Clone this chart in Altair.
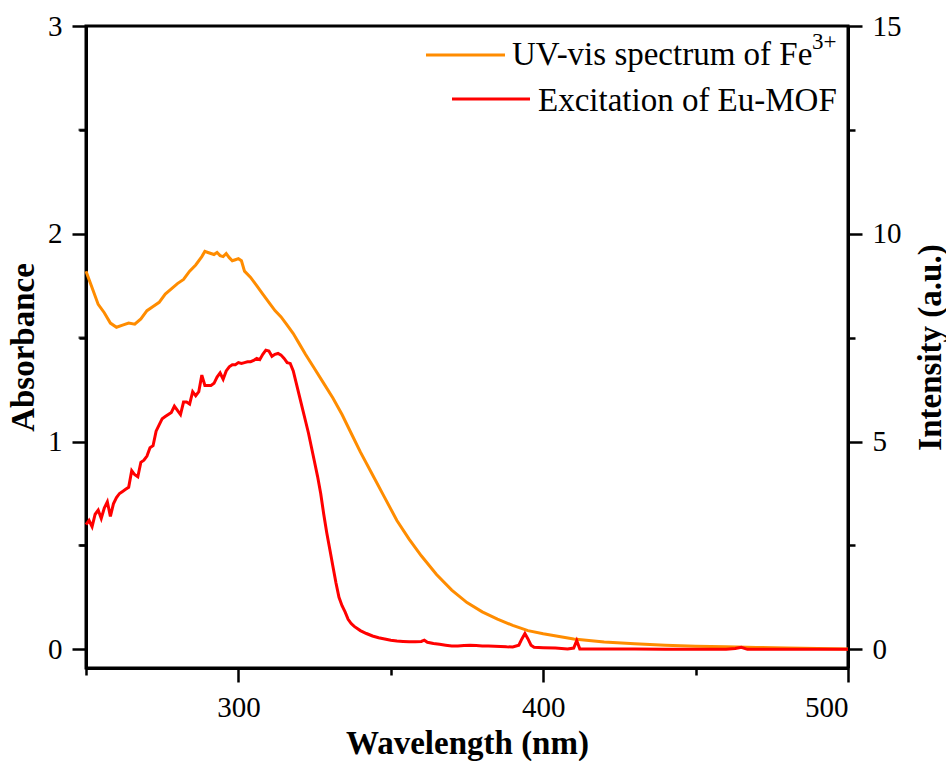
import altair as alt
import pandas as pd

# ---- data ----
uv_wl = [250, 252, 254, 256, 258, 260, 262, 264, 266, 268, 270, 272, 274, 276, 278, 280,
         282, 284, 286, 288, 289, 290, 291, 292, 293, 294, 295, 296, 297, 298, 299, 300,
         301, 302, 304, 306, 308, 310, 312, 314, 316, 318, 320, 322, 325, 328, 331, 334,
         337, 340, 344, 348, 352, 356, 360, 365, 370, 375, 380, 385, 390, 395, 400, 410,
         420, 430, 440, 450, 460, 470, 480, 490, 500]
uv_abs = [1.82, 1.74, 1.66, 1.62, 1.57, 1.55, 1.56, 1.57, 1.565, 1.59, 1.63, 1.65, 1.67, 1.71,
          1.735, 1.76, 1.78, 1.82, 1.85, 1.89, 1.915, 1.91, 1.905, 1.90, 1.91, 1.895, 1.89,
          1.905, 1.885, 1.87, 1.875, 1.88, 1.87, 1.82, 1.79, 1.75, 1.71, 1.67, 1.63, 1.60,
          1.56, 1.52, 1.47, 1.42, 1.35, 1.28, 1.21, 1.13, 1.04, 0.95, 0.84, 0.73, 0.62, 0.53,
          0.45, 0.36, 0.285, 0.225, 0.18, 0.145, 0.115, 0.09, 0.075, 0.05, 0.035, 0.027,
          0.02, 0.015, 0.012, 0.009, 0.006, 0.004, 0.002]

ex_wl = [250, 251, 252, 253, 254, 255, 256, 257, 258, 259, 260, 261, 262, 263, 264, 265, 266,
         267, 268, 269, 270, 271, 272, 273, 274, 275, 276, 277, 278, 279, 280, 281, 282, 283,
         284, 285, 286, 287, 288, 289, 290, 291, 292, 293, 294, 295, 296, 297, 298, 299, 300,
         301, 302, 303, 304, 305, 306, 307, 308, 309, 310, 311, 312, 313, 314, 315, 316, 317,
         318, 319, 320, 321, 322, 323, 324, 325, 326, 327, 328, 329, 330, 331, 332, 333, 334,
         335, 336, 337, 338, 339, 340, 342, 344, 346, 348, 350, 352, 354, 356, 358, 360, 361,
         362, 364, 366, 368, 370, 372, 374, 376, 378, 380, 382, 384, 386, 388, 390, 392, 393,
         394, 395, 396, 397, 400, 404, 408, 410, 411, 412, 420, 430, 440, 450, 460, 463, 465,
         467, 480, 490, 500]
ex_int = [3.0, 3.1, 2.95, 3.25, 3.35, 3.15, 3.4, 3.55, 3.2, 3.5, 3.65, 3.75, 3.8, 3.85, 3.9,
          4.3, 4.2, 4.15, 4.5, 4.55, 4.65, 4.85, 4.9, 5.25, 5.4, 5.55, 5.6, 5.65, 5.7, 5.85,
          5.75, 5.65, 5.95, 5.95, 5.9, 6.2, 6.1, 6.2, 6.6, 6.35, 6.35, 6.35, 6.4, 6.55, 6.65,
          6.5, 6.7, 6.8, 6.85, 6.85, 6.9, 6.88, 6.9, 6.92, 6.92, 6.95, 7.0, 6.97, 7.1, 7.2,
          7.18, 7.05, 7.1, 7.12, 7.08, 7.0, 6.9, 6.88, 6.7, 6.4, 6.1, 5.8, 5.5, 5.2, 4.85, 4.5,
          4.15, 3.75, 3.25, 2.8, 2.4, 2.0, 1.6, 1.25, 1.05, 0.9, 0.72, 0.62, 0.55, 0.5, 0.45,
          0.38, 0.32, 0.28, 0.25, 0.22, 0.2, 0.19, 0.18, 0.18, 0.19, 0.22, 0.17, 0.14, 0.12,
          0.1, 0.08, 0.08, 0.09, 0.1, 0.09, 0.08, 0.08, 0.075, 0.07, 0.06, 0.055, 0.1, 0.25,
          0.38, 0.25, 0.1, 0.05, 0.04, 0.03, 0.01, 0.03, 0.21, 0.01, 0.01, 0.01, 0.0, 0.0,
          0.0, 0.02, 0.05, 0.0, 0.0, 0.0, 0.0]

x_major = [300, 400, 500]
x_minor = [250, 350, 450]
yl_major = [0, 1, 2, 3]
yl_minor = [0.5, 1.5, 2.5]
yr_major = [0, 5, 10, 15]
yr_minor = [2.5, 7.5, 12.5]

ORANGE = "#FF8C00"
RED = "#FF0000"
FONT = "Liberation Serif"

df_uv = pd.DataFrame({"wl": uv_wl, "A": uv_abs})
df_ex = pd.DataFrame({"wl": ex_wl, "I": ex_int})
df_lminor = pd.DataFrame({"m": yl_minor})
one = pd.DataFrame({"k": [0]})

W, H = 762, 642
xscale = alt.Scale(domain=[250, 500], nice=False, zero=False)
lscale = alt.Scale(domain=[-0.09, 3], nice=False, zero=False)
rscale = alt.Scale(domain=[-0.45, 15], nice=False, zero=False)

common = dict(labelFont=FONT, labelFontSize=29, labelColor="black", tickColor="black",
              tickWidth=2.5, domainColor="black", domainWidth=3, grid=False,
              titleFont=FONT, titleFontSize=33, titleFontWeight="bold", titleColor="black")

minor_common = dict(tickColor="black", tickWidth=2.5, tickSize=7, labels=False, domain=False,
                    grid=False, title=None)

# left minor ticks as an axis on an invisible layer (placed first so it stays on the left)
minor_l = alt.Chart(df_lminor).mark_point(opacity=0).encode(
    y=alt.Y("m:Q", scale=lscale,
            axis=alt.Axis(orient="left", values=yl_minor, **minor_common)),
)

uv_line = alt.Chart(df_uv).mark_line(color=ORANGE, strokeWidth=3).encode(
    x=alt.X("wl:Q", scale=xscale,
            axis=alt.Axis(orient="bottom", values=x_major, tickSize=14, title="Wavelength (nm)",
                          titleBaseline="alphabetic", titleY=85, labelPadding=11, **common)),
    y=alt.Y("A:Q", scale=lscale,
            axis=alt.Axis(orient="left", values=yl_major, tickSize=14, title="Absorbance",
                          titleAngle=270, titleBaseline="alphabetic", titleAlign="center",
                          titleX=-53, titleY=H / 2, labelPadding=10, **common)),
)

ex_line = alt.Chart(df_ex).mark_line(color=RED, strokeWidth=3).encode(
    x=alt.X("wl:Q", scale=xscale, axis=None),
    y=alt.Y("I:Q", scale=rscale,
            axis=alt.Axis(orient="right", values=yr_major, tickSize=14, title="Intensity (a.u.)",
                          titleAngle=270, titleBaseline="alphabetic", titleAlign="center",
                          titleX=92, titleY=H / 2, labelPadding=10, **common)),
)

minor_x = alt.Chart(df_uv).mark_point(opacity=0).encode(
    x=alt.X("wl:Q", scale=xscale,
            axis=alt.Axis(orient="bottom", values=x_minor, **minor_common)),
)
minor_r = alt.Chart(df_ex).mark_point(opacity=0).encode(
    x=alt.X("wl:Q", scale=xscale, axis=None),
    y=alt.Y("I:Q", scale=rscale,
            axis=alt.Axis(orient="right", values=yr_minor, **minor_common)),
)
# the same left minor ticks again as short horizontal ticks (overlap exactly)
minor_l2 = alt.Chart(df_lminor).mark_tick(color="black", thickness=2.5, size=7,
                                          orient="horizontal").encode(
    y=alt.Y("m:Q", scale=lscale, axis=None),
    x=alt.value(-4),
)

# legend
leg_uv_line = alt.Chart(one).mark_rule(color=ORANGE, strokeWidth=3).encode(
    x=alt.value(340), x2=alt.value(419), y=alt.value(29))
leg_ex_line = alt.Chart(one).mark_rule(color=RED, strokeWidth=3).encode(
    x=alt.value(366), x2=alt.value(444), y=alt.value(73))
leg_uv_text = alt.Chart(one).mark_text(font=FONT, fontSize=33, align="left",
                                       baseline="alphabetic", color="black").encode(
    x=alt.value(426), y=alt.value(39), text=alt.value("UV-vis spectrum of Fe"))
leg_uv_sup = alt.Chart(one).mark_text(font=FONT, fontSize=23, align="left",
                                      baseline="alphabetic", color="black").encode(
    x=alt.value(726), y=alt.value(23), text=alt.value("3+"))
leg_ex_text = alt.Chart(one).mark_text(font=FONT, fontSize=33, align="left",
                                       baseline="alphabetic", color="black").encode(
    x=alt.value(452), y=alt.value(85), text=alt.value("Excitation of Eu-MOF"))

chart = alt.layer(
    minor_l, uv_line, ex_line, minor_x, minor_r, minor_l2,
    leg_uv_line, leg_ex_line, leg_uv_text, leg_uv_sup, leg_ex_text,
).resolve_scale(y="independent").resolve_axis(x="independent", y="independent").properties(
    width=W, height=H,
    autosize=alt.AutoSizeParams(type="none"),
    padding={"left": 86, "top": 26, "right": 946 - 86 - W, "bottom": 761 - 26 - H},
    background="white",
).configure_view(stroke="black", strokeWidth=3)

chart.save("out.html", embed_options={"renderer": "svg", "actions": False})
